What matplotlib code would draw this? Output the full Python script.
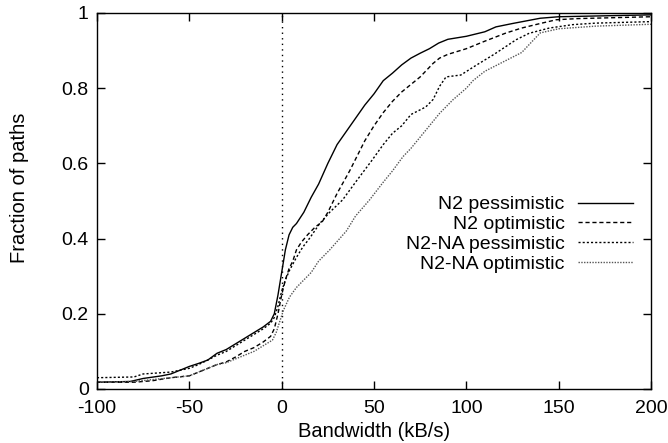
import numpy as np
import matplotlib
matplotlib.use("Agg")
import matplotlib.pyplot as plt
from matplotlib.ticker import FormatStrFormatter

plt.rcParams['font.family'] = ['Liberation Sans', 'DejaVu Sans']
plt.rcParams['axes.unicode_minus'] = False

# CDF curves (bandwidth kB/s, fraction of paths)
n2_pess_x = [-100, -82, -75, -65, -60, -55, -50, -45, -40, -35, -30, -25, -20, -15, -10, -6, -4, -2, 0, 2,
             4, 6, 8, 12, 16, 20, 25, 30, 35, 40, 45, 50, 55, 60, 65, 70, 75, 80, 85, 90, 100, 110, 116,
             125, 140, 150, 200]
n2_pess_y = [0.018, 0.02, 0.028, 0.035, 0.04, 0.05, 0.06, 0.068, 0.077, 0.095, 0.105, 0.12, 0.135, 0.15,
             0.165, 0.18, 0.2, 0.25, 0.31, 0.37, 0.41, 0.43, 0.44, 0.47, 0.51, 0.545, 0.6, 0.65, 0.685,
             0.72, 0.755, 0.785, 0.82, 0.84, 0.862, 0.88, 0.893, 0.905, 0.92, 0.93, 0.938, 0.95, 0.963,
             0.972, 0.986, 0.99, 0.995]

n2_opt_x = [-100, -80, -70, -60, -50, -45, -40, -35, -30, -25, -20, -15, -10, -6, -4, -2, 0, 2, 4, 6, 8,
            10.6, 14, 18, 22, 25, 30, 36.8, 45, 50, 55, 60, 65, 70, 75, 82, 85.5, 90, 100, 110, 121.6, 130,
            140, 148.7, 160, 200]
n2_opt_y = [0.018, 0.018, 0.022, 0.03, 0.035, 0.045, 0.055, 0.065, 0.072, 0.085, 0.1, 0.11, 0.125, 0.14,
            0.16, 0.2, 0.25, 0.29, 0.32, 0.34, 0.37, 0.39, 0.41, 0.43, 0.445, 0.47, 0.52, 0.58, 0.66, 0.7,
            0.735, 0.765, 0.79, 0.81, 0.83, 0.866, 0.88, 0.89, 0.905, 0.925, 0.947, 0.96, 0.972, 0.982,
            0.985, 0.99]

na_pess_x = [-100, -80, -75, -60, -50, -45, -40, -35, -30, -25, -20, -15, -10, -6, -4, -2, 0, 2, 4.3, 8,
             11.5, 15, 20.6, 26, 33, 40, 49, 55, 60, 65, 70, 78, 82, 85.5, 89, 97, 105, 115, 127, 134, 145,
             157.6, 170, 200]
na_pess_y = [0.03, 0.032, 0.04, 0.045, 0.055, 0.065, 0.077, 0.09, 0.1, 0.115, 0.13, 0.145, 0.16, 0.175,
             0.19, 0.22, 0.26, 0.29, 0.316, 0.35, 0.378, 0.4, 0.44, 0.47, 0.503, 0.55, 0.609, 0.65, 0.68,
             0.7, 0.73, 0.75, 0.77, 0.805, 0.83, 0.835, 0.86, 0.89, 0.929, 0.946, 0.96, 0.969, 0.973, 0.977]

na_opt_x = [-100, -80, -70, -60, -50, -45, -40, -35, -30, -25, -20, -15, -10, -5, -3, -1, 1, 4.3, 8, 12,
            16, 20, 26, 35, 40, 47.6, 55, 60, 65.7, 70, 75, 80, 85.5, 92.7, 100, 103.6, 110, 120, 130, 134,
            140, 150, 170, 200]
na_opt_y = [0.018, 0.02, 0.025, 0.03, 0.035, 0.045, 0.055, 0.065, 0.07, 0.08, 0.09, 0.1, 0.115, 0.13, 0.15,
            0.18, 0.21, 0.245, 0.27, 0.29, 0.31, 0.34, 0.37, 0.42, 0.46, 0.503, 0.55, 0.58, 0.618, 0.64,
            0.67, 0.7, 0.733, 0.769, 0.8, 0.82, 0.845, 0.87, 0.895, 0.916, 0.947, 0.958, 0.965, 0.97]

labels = ['N2 pessimistic', 'N2 optimistic', 'N2-NA pessimistic', 'N2-NA optimistic']
x_ticks = [-100, -50, 0, 50, 100, 150, 200]
y_ticks = [0, 0.2, 0.4, 0.6, 0.8, 1]


def main():
    fig = plt.figure(figsize=(6.68, 4.43), dpi=100)
    ax = fig.add_axes([0.1452, 0.1219, 0.8294, 0.8488])

    # zero line
    ax.plot([0, 0], [0, 1], color='black', lw=1, linestyle=(0, (1, 3)))

    ax.plot(n2_pess_x, n2_pess_y, color='black', lw=1, label=labels[0])
    ax.plot(n2_opt_x, n2_opt_y, color='black', lw=1, linestyle=(0, (3, 2)), label=labels[1])
    ax.plot(na_pess_x, na_pess_y, color='black', lw=1, linestyle=(0, (1.5, 1.5)), label=labels[2])
    ax.plot(na_opt_x, na_opt_y, color='#555555', lw=1, linestyle=(0, (1, 1)), label=labels[3])

    ax.set_xlim(-100, 200)
    ax.set_ylim(0, 1)
    ax.set_xticks(x_ticks)
    ax.set_yticks(y_ticks)
    ax.yaxis.set_major_formatter(FormatStrFormatter('%g'))
    ax.tick_params(direction='in', length=6, width=1, top=True, right=True, labelsize=14)
    ax.tick_params(axis='x', pad=8)
    ax.tick_params(axis='y', pad=6)
    for s in ax.spines.values():
        s.set_linewidth(1)

    ax.set_xlabel('Bandwidth (kB/s)', fontsize=14.5, va='center')
    ax.set_ylabel('Fraction of paths', fontsize=14.5, va='center')
    ax.xaxis.set_label_coords(0.5, -0.112)
    ax.yaxis.set_label_coords(-0.139, 0.535)

    ax.legend(loc='upper right', bbox_to_anchor=(0.967, 0.514), frameon=False, markerfirst=False,
              fontsize=14, handlelength=2.8, handletextpad=0.7, labelspacing=0.12, borderpad=0,
              borderaxespad=0)

    fig.savefig('out.png', dpi=100)


if __name__ == "__main__":
    main()
